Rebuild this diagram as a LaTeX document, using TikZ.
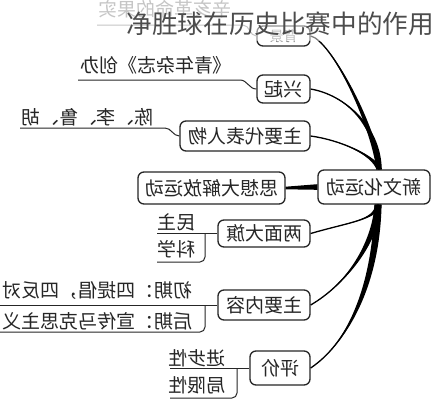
\documentclass[tikz,border=0pt]{standalone}
\usepackage{fontspec}
\newfontfamily\cjk{Noto Sans CJK SC}
\usetikzlibrary{calc}
\tikzset{
  box/.style={draw=black!85, line width=1.3pt, rounded corners=6pt, inner sep=0pt,
    font=\cjk\fontsize{19}{19}\selectfont, text=black!85},
  leaf/.style={inner sep=0pt, font=\cjk\fontsize{19}{19}\selectfont, text=black!85},
  link/.style={draw=black!85, line width=1pt},
  titletext/.style={inner sep=0pt, font=\cjk\fontsize{25.6}{25.6}\selectfont, text=black!70},
}
\newcommand\mirror[1]{\reflectbox{#1}}
\newcommand\branch[5]{%
  \fill[black] ([xshift=-#5pt]#1) .. controls ([xshift=-#5pt]#2) and (#3) .. (#4)
     .. controls (#3) and ([xshift=#5pt]#2) .. ([xshift=#5pt]#1) -- cycle;
  \draw[black, line width=1.3pt] (#1) .. controls (#2) and (#3) .. (#4);}
\begin{document}
\begin{tikzpicture}[x=1pt,y=-1pt]
\useasboundingbox[fill=white] (0,0) rectangle (434,400);

% main boxes
\node[box, minimum width=112, minimum height=34] (c) at (374,187) {\mirror{新文化运动}};
\node[box, minimum width=147, minimum height=32] (sx) at (211.5,188) {\mirror{思想大解放运动}};
\node[box, minimum width=53, minimum height=20, font=\cjk\fontsize{14}{14}\selectfont, text=black!50] (bj) at (283.5,36) {\mirror{背景}};
\node[box, minimum width=53, minimum height=28] (xq) at (283.5,89) {\mirror{兴起}};
\node[box, minimum width=130, minimum height=30] (db) at (245,136) {\mirror{主要代表人物}};
\node[box, minimum width=92, minimum height=27] (lm) at (264,233.5) {\mirror{两面大旗}};
\node[box, minimum width=92, minimum height=30] (nr) at (264,305) {\mirror{主要内容}};
\node[box, minimum width=60, minimum height=34] (pj) at (280,368) {\mirror{评价}};

% convergence points
\coordinate (ct) at ($(c.north)+(5,0)$);
\coordinate (cb) at ($(c.south)+(4,0)$);

% tapered branches
\branch{ct}{372,120}{330,40}{bj.east}{2.6}
\branch{ct}{378,125}{345,95}{xq.east}{2.8}
\branch{ct}{374,155}{340,140}{db.east}{2.6}
\branch{cb}{376,220}{350,222}{lm.east}{2.6}
\branch{cb}{375,245}{345,285}{nr.east}{3.4}
\branch{cb}{376,290}{345,345}{pj.east}{3.6}
\fill[black] ([yshift=1.3pt]sx.east) -- ([yshift=2.8pt]c.west) -- ([yshift=-2.8pt]c.west) -- ([yshift=-1.3pt]sx.east) -- cycle;

% leaves: background
\node[leaf, text=black!45] (g0) at (165,9) {\mirror{辛亥革命的果实}};
\coordinate (g0a) at (97,25); \coordinate (g0b) at (243,25);
\draw[link, draw=black!45] (bj.west) to[out=180,in=0] (g0b) -- (g0a);

% leaves: rise
\node[leaf] (t1) at (156,65) {\mirror{《青年杂志》创办}};
\coordinate (t1a) at (78,80); \coordinate (t1b) at (240,80);
\draw[link] (xq.west) to[out=180,in=0] (t1b) -- (t1a);

% leaves: representatives
\node[leaf] (t2) at (87.5,117) {\mirror{陈、李、鲁、胡}};
\coordinate (t2a) at (20,128); \coordinate (t2b) at (165,128);
\draw[link] (db.west) to[out=180,in=0] (t2b) -- (t2a);

% leaves: two banners
\node[leaf] (m1) at (176,222) {\mirror{民主}};
\node[leaf] (m2) at (176,249) {\mirror{科学}};
\coordinate (m1a) at (157,233.5); \coordinate (m1j) at (205,233.5);
\coordinate (m2a) at (157,262);
\draw[link] (lm.west) -- (m1a);
\draw[link, rounded corners=5pt] (m1j) -- (205,262) -- (m2a);

% leaves: main content
\node[leaf, anchor=east] (n1) at (193,291) {\mirror{初期：四提倡，四反对}};
\node[leaf, anchor=east] (n2) at (193,321) {\mirror{后期：宣传马克思主义}};
\coordinate (n1a) at (0,305); \coordinate (n1j) at (205,305);
\coordinate (n2a) at (0,332);
\draw[link] (nr.west) -- (n1a);
\draw[link, rounded corners=5pt] (n1j) -- (205,332) -- (n2a);

% leaves: evaluation
\node[leaf] (p1) at (197,358) {\mirror{进步性}};
\node[leaf] (p2) at (197,385) {\mirror{局限性}};
\coordinate (p1a) at (170,368); \coordinate (p1j) at (237,368);
\coordinate (p2a) at (170,398);
\draw[link] (pj.west) -- (p1a);
\draw[link, rounded corners=5pt] (p1j) -- (237,398) -- (p2a);

% overlay title
\fill[white, opacity=0.5] (92,0) rectangle (434,41);
\node[titletext, anchor=east] (title) at (434,24) {净胜球在历史比赛中的作用};
\end{tikzpicture}
\end{document}
